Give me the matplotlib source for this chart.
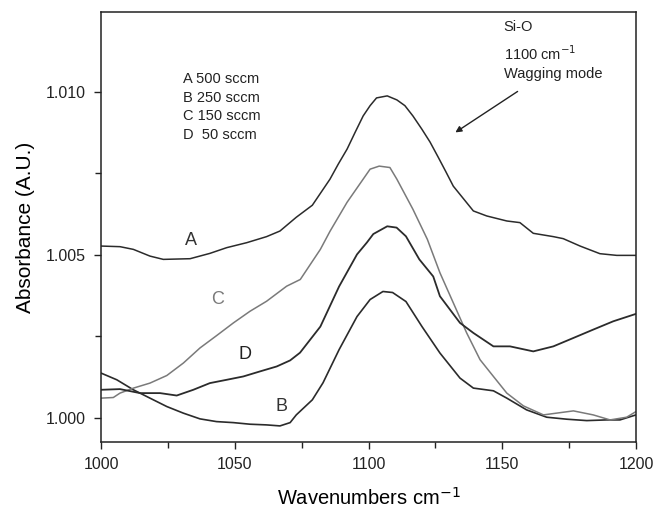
import matplotlib
matplotlib.use('Agg')
import matplotlib.pyplot as plt
from matplotlib.ticker import MultipleLocator

plt.rcParams['font.family'] = ['Liberation Sans', 'DejaVu Sans']

# curve A, 500 sccm
a_x = [1000, 1007.1, 1012.1, 1018.3, 1023.3, 1033.3, 1040.7, 1047, 1054.5, 1061.9, 1066.9, 1073,
       1079, 1085.6, 1088.7, 1092, 1095, 1098, 1100.6, 1103, 1107, 1110.6, 1113.6, 1116.6, 1119.9,
       1123, 1126.1, 1129, 1131.7, 1139.2, 1144.2, 1151.7, 1156.6, 1161.6, 1169.1, 1172.8, 1179.1,
       1186.5, 1192.8, 1200]
a_y = [1.005271, 1.005252, 1.005169, 1.004963, 1.004862, 1.004883, 1.005046, 1.005222, 1.005375,
       1.00556, 1.005732, 1.006154, 1.006523, 1.007323, 1.007785, 1.008246, 1.00876, 1.009262,
       1.009578, 1.009815, 1.009877, 1.009754, 1.009578, 1.009262, 1.008862, 1.008462, 1.00799,
       1.007538, 1.007108, 1.006348, 1.006194, 1.00604, 1.00599, 1.005662, 1.00556, 1.005498,
       1.005271, 1.005037, 1.004985, 1.004985]

# curve B, 250 sccm
b_x = [1000, 1005.9, 1012.1, 1018.3, 1024.6, 1030.8, 1037, 1043.2, 1049.5, 1055.7, 1061.9, 1066.9,
       1070.7, 1073, 1079, 1083, 1089, 1095.7, 1100.6, 1105.4, 1109, 1114, 1120, 1126.7, 1134.2,
       1139.2, 1146.7, 1151.7, 1159.1, 1166.6, 1174.1, 1181.6, 1189, 1194, 1200]
b_y = [1.001375, 1.001169, 1.000862, 1.000606, 1.000348, 1.000145, 0.99997, 0.999886, 0.999855,
       0.999806, 0.999785, 0.999754, 0.999855, 1.000092, 1.000554, 1.001077, 1.002092, 1.003108,
       1.003631, 1.003877, 1.003846, 1.003569, 1.0028, 1.00199, 1.001221, 1.000914, 1.000831,
       1.000606, 1.000246, 1.000021, 0.99996, 0.999917, 0.999938, 0.999938, 1.000092]

# curve C, 150 sccm
c_x = [1000, 1004.6, 1007.1, 1012.1, 1018.3, 1024.6, 1030.8, 1037, 1043.2, 1049.5, 1055.7, 1061.9,
       1069.4, 1074.5, 1079, 1082, 1085.6, 1092, 1098, 1100.6, 1104, 1108, 1110.6, 1116.6, 1122,
       1126.7, 1131.7, 1136.7, 1141.7, 1146.7, 1151.7, 1157.9, 1165.4, 1176.6, 1184, 1190.3,
       1196.5, 1200]
c_y = [1.000606, 1.000625, 1.00076, 1.000913, 1.001067, 1.0013, 1.001683, 1.002145, 1.002523,
       1.002914, 1.003271, 1.003578, 1.00404, 1.004246, 1.0048, 1.005169, 1.005723, 1.006615,
       1.007323, 1.00763, 1.007723, 1.00768, 1.007323, 1.0064, 1.005477, 1.004452, 1.003529,
       1.002606, 1.001785, 1.001271, 1.00076, 1.000369, 1.000092, 1.000215, 1.000092, 0.999938,
       1.000021, 1.000194]

# curve D, 50 sccm
d_x = [1000, 1007.1, 1014.6, 1022.1, 1028.3, 1034.5, 1040.7, 1047, 1053.2, 1059.4, 1065.7, 1070.7,
       1074.4, 1082, 1089, 1095.7, 1099.4, 1101.8, 1107, 1110.5, 1114, 1119, 1124.2, 1126.7,
       1134.2, 1139.2, 1146.7, 1152.9, 1161.6, 1169.1, 1176.6, 1184, 1191.5, 1200]
d_y = [1.000862, 1.000883, 1.00076, 1.00076, 1.000686, 1.000862, 1.001067, 1.001169, 1.001271,
       1.001425, 1.001578, 1.001763, 1.002, 1.0028, 1.00403, 1.005015, 1.00538, 1.00564,
       1.005877, 1.005837, 1.00557, 1.004862, 1.004338, 1.003732, 1.002914, 1.002606, 1.002194,
       1.002194, 1.00204, 1.002194, 1.002452, 1.002708, 1.002963, 1.003191]

legend_lines = ['A 500 sccm', 'B 250 sccm', 'C 150 sccm', 'D  50 sccm']

dark = '#2b2b2b'
grey = '#7a7a7a'

fig = plt.figure(figsize=(6.55, 5.09), dpi=100)
ax = fig.add_axes([0.1542, 0.1316, 0.8168, 0.8448])

ax.plot(a_x, a_y, color=dark, lw=1.1)
ax.plot(b_x, b_y, color=dark, lw=1.2)
ax.plot(c_x, c_y, color=grey, lw=1.1)
ax.plot(d_x, d_y, color=dark, lw=1.3)

ax.set_xlim(1000, 1200)
ax.set_ylim(0.99926, 1.01245)
ax.xaxis.set_major_locator(MultipleLocator(50))
ax.xaxis.set_minor_locator(MultipleLocator(25))
ax.yaxis.set_major_locator(MultipleLocator(0.005))
ax.yaxis.set_minor_locator(MultipleLocator(0.0025))
ax.yaxis.set_major_formatter(plt.FormatStrFormatter('%.3f'))
ax.tick_params(which='both', direction='out', top=False, right=False, width=1.0, colors='#222222',
               labelsize=11.5)
ax.tick_params(which='major', length=5, pad=6)
ax.tick_params(which='minor', length=4)
for s in ax.spines.values():
    s.set_linewidth(1.1)
    s.set_color('#222222')

# x label sits right at the bottom edge like the original
fig.text(0.5626, 4.0 / 509, 'Wavenumbers cm$^{-1}$', fontsize=14.5, ha='center', va='baseline')
ax.set_ylabel('Absorbance (A.U.)', fontsize=15, labelpad=8)

for i, t in enumerate(legend_lines):
    ax.text(1030.5, 1.0104 - i * 0.000575, t, fontsize=10.5, va='center', ha='left', color='#222222')

ax.text(1150.5, 1.01198, 'Si-O', fontsize=10.5, va='center', color='#222222')
ax.text(1150.5, 1.01118, '1100 cm$^{-1}$', fontsize=10.5, va='center', color='#222222')
ax.text(1150.5, 1.01055, 'Wagging mode', fontsize=10.5, va='center', color='#222222')
ax.annotate('', xy=(1131.6, 1.00871), xytext=(1156.6, 1.01006),
            arrowprops=dict(arrowstyle='-|>', color='#222222', lw=1.0, mutation_scale=9))

ax.text(1033.6, 1.00543, 'A', fontsize=13, ha='center', va='center', color='#333333')
ax.text(1043.4, 1.00363, 'C', fontsize=13, ha='center', va='center', color=grey)
ax.text(1053.8, 1.00194, 'D', fontsize=13, ha='center', va='center', color='#222222')
ax.text(1067.3, 1.00034, 'B', fontsize=13, ha='center', va='center', color='#333333')

fig.savefig('out.png', dpi=100)
